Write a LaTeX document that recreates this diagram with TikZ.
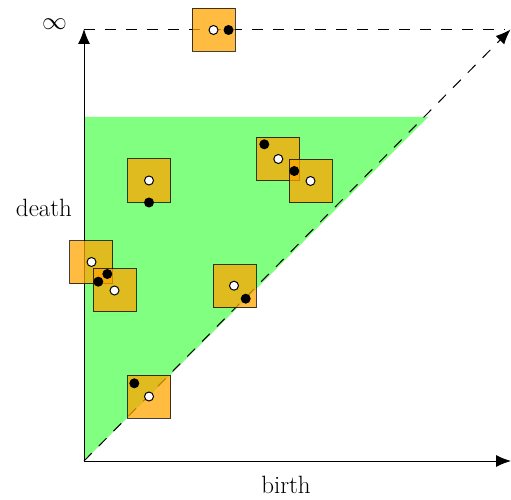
\documentclass[tikz,border=0pt]{standalone}
\usetikzlibrary{arrows.meta}
\definecolor{boxorange}{RGB}{255,165,0}
\definecolor{regiongreen}{RGB}{128,255,128}
\begin{document}
\begin{tikzpicture}[x=1bp,y=-1bp,
  ax/.style={line width=1bp,-{Latex[length=15bp,width=12bp]}},
  dsh/.style={line width=1bp,dash pattern=on 11bp off 10bp},
  pbox/.style={draw=black,fill=boxorange,opacity=0.75,line width=1bp,minimum size=43bp,inner sep=0pt,anchor=center},
  wpt/.style={circle,draw=black,fill=white,line width=1bp,minimum size=9bp,inner sep=0pt},
  bpt/.style={circle,fill=black,minimum size=10bp,inner sep=0pt},
  lbl/.style={font=\fontsize{25bp}{30bp}\selectfont,inner sep=0pt}]
\useasboundingbox (0,0) rectangle (511,500);
% coordinates
\coordinate (O) at (84,461);
\coordinate (ytip) at (84,29);
\coordinate (xtip) at (511,461);
\coordinate (dtip) at (510.5,29.5);
\coordinate (infL) at (84,30);
\coordinate (infR) at (505,30);
% region
\fill[regiongreen] (O) -- (84,117) -- (428,117) -- cycle;
% lines
\draw[dsh] (infL) -- (infR);
\draw[dsh,-{Latex[length=15bp,width=12bp]}] (O) -- (dtip);
\draw[ax] (O) -- (ytip);
\draw[ax] (O) -- (xtip);
% boxes
\node[pbox] (b1) at (213.5,30) {};
\node[pbox] (b2) at (149,180.5) {};
\node[pbox] (b3) at (91,262) {};
\node[pbox] (b4) at (114.5,290) {};
\node[pbox] (b5) at (278.3,159) {};
\node[pbox] (b6) at (310.5,181) {};
\node[pbox] (b7) at (234.5,286) {};
\node[pbox] (b8) at (149,396.5) {};
% points
\node[wpt] (w1) at (213.5,30) {};
\node[bpt] (k1) at (228.5,30) {};
\node[wpt] (w2) at (149,180.5) {};
\node[bpt] (k2) at (149,202.5) {};
\node[wpt] (w3) at (91.5,262) {};
\node[bpt] (k3) at (107.3,274) {};
\node[wpt] (w4) at (114.5,290.5) {};
\node[bpt] (k4) at (98.3,281.7) {};
\node[wpt] (w5) at (278.3,159) {};
\node[bpt] (k5) at (264.3,144.3) {};
\node[wpt] (w6) at (310.5,181) {};
\node[bpt] (k6) at (294.3,171) {};
\node[wpt] (w7) at (234,285.7) {};
\node[bpt] (k7) at (245.7,298.7) {};
\node[wpt] (w8) at (149,396.5) {};
\node[bpt] (k8) at (134.3,383.3) {};
% labels
\node[lbl] (inf) at (54.5,24) {$\infty$};
\node[lbl,anchor=base] (death) at (44,216.5) {death};
\node[lbl,anchor=base] (birth) at (286,493) {birth};
\end{tikzpicture}
\end{document}
